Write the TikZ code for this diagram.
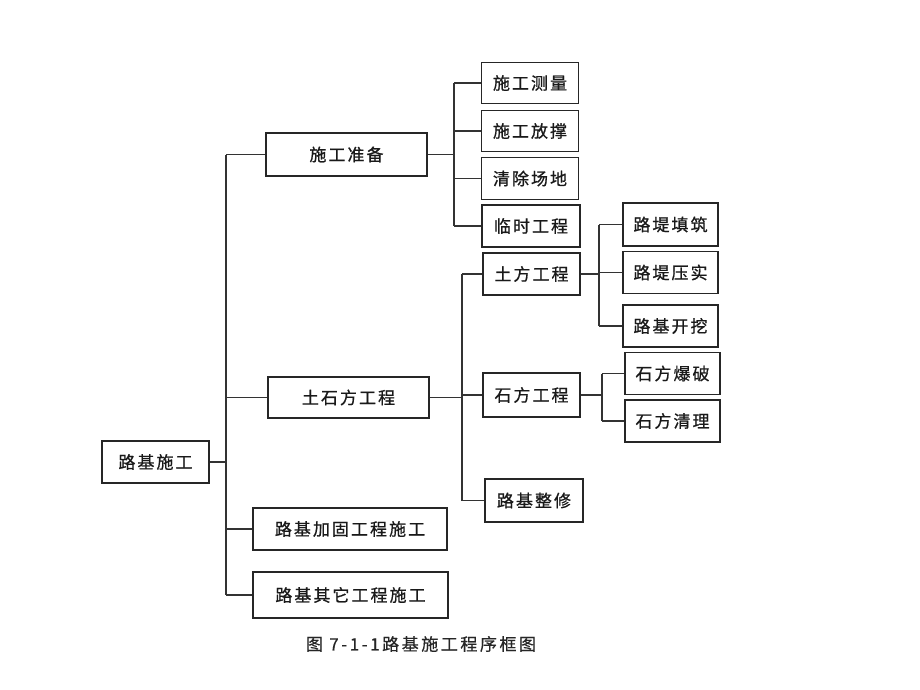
\documentclass[tikz,border=0pt]{standalone}
\usepackage{fontspec}
\newfontfamily\cjk[LetterSpace=12,FakeBold=0.8]{Noto Sans CJK SC}
\newfontfamily\cjkcap[LetterSpace=15,FakeBold=0.5]{Noto Sans CJK SC}
\begin{document}
\begin{tikzpicture}[x=1pt,y=-1pt,
  box/.style={draw=black!85,line width=1.8pt,rectangle,inner sep=0pt,
     font=\cjk\fontsize{17}{20}\selectfont,text=black!90},
  conn/.style={draw=black!80,line width=1.5pt}]
\useasboundingbox[fill=white] (0,0) rectangle (920,690);
% level 0
\node[box,minimum width=107pt,minimum height=42pt] (root) at (155.5,462) {路基施工};
% level 1
\node[box,minimum width=161pt,minimum height=43pt] (prep) at (346.5,154.5) {施工准备};
\node[box,minimum width=161pt,minimum height=41pt] (tsf) at (348.5,397.5) {土石方工程};
\node[box,minimum width=194pt,minimum height=42pt] (jg) at (350,529) {路基加固工程施工};
\node[box,minimum width=195pt,minimum height=46pt] (qt) at (350.5,595) {路基其它工程施工};
% level 2 (prep)
\node[box,minimum width=97pt,minimum height=41pt] (cl) at (530,83) {施工测量};
\node[box,minimum width=97pt,minimum height=41pt] (fy) at (530,131) {施工放撑};
\node[box,minimum width=97pt,minimum height=42pt] (qc) at (530,178.5) {清除场地};
\node[box,minimum width=98pt,minimum height=42pt] (ls) at (531,226) {临时工程};
% level 2 (tsf)
\node[box,minimum width=97pt,minimum height=42pt] (tf) at (531.5,274) {土方工程};
\node[box,minimum width=97pt,minimum height=44pt] (sf) at (531.5,395) {石方工程};
\node[box,minimum width=98pt,minimum height=43pt] (zx) at (534,500.5) {路基整修};
% level 3
\node[box,minimum width=95pt,minimum height=43pt] (tz) at (670.5,224.5) {路堤填筑};
\node[box,minimum width=95pt,minimum height=42pt] (ys) at (670.5,272.5) {路堤压实};
\node[box,minimum width=95pt,minimum height=42pt] (kw) at (670.5,326) {路基开挖};
\node[box,minimum width=95pt,minimum height=42pt] (bp) at (672.5,373.5) {石方爆破};
\node[box,minimum width=95pt,minimum height=42pt] (ql) at (672.5,421) {石方清理};
% caption
\node[font=\cjkcap\fontsize{17}{20}\selectfont,text=black!85] (cap) at (421,644) {图 7-1-1路基施工程序框图};
% trunk coordinates
\coordinate (t0) at (226,0);
\coordinate (t1) at (454,0);
\coordinate (t2) at (462,0);
\coordinate (t3) at (599,0);
\coordinate (t4) at (602,0);
% root tree
\draw[conn] (root.east) -- (root.east -| t0);
\draw[conn] (t0 |- prep.west) -- (t0 |- qt.west);
\foreach \n in {prep,tsf,jg,qt} \draw[conn] (\n.west) -- (\n.west -| t0);
% prep tree
\draw[conn] (prep.east) -- (prep.east -| t1);
\draw[conn] (t1 |- cl.west) -- (t1 |- ls.west);
\foreach \n in {cl,fy,qc,ls} \draw[conn] (\n.west) -- (\n.west -| t1);
% tsf tree
\draw[conn] (tsf.east) -- (tsf.east -| t2);
\draw[conn] (t2 |- tf.west) -- (t2 |- zx.west);
\foreach \n in {tf,sf,zx} \draw[conn] (\n.west) -- (\n.west -| t2);
% tf tree
\draw[conn] (tf.east) -- (tf.east -| t3);
\draw[conn] (t3 |- tz.west) -- (t3 |- kw.west);
\foreach \n in {tz,ys,kw} \draw[conn] (\n.west) -- (\n.west -| t3);
% sf tree
\draw[conn] (sf.east) -- (sf.east -| t4);
\draw[conn] (t4 |- bp.west) -- (t4 |- ql.west);
\foreach \n in {bp,ql} \draw[conn] (\n.west) -- (\n.west -| t4);
\end{tikzpicture}
\end{document}
